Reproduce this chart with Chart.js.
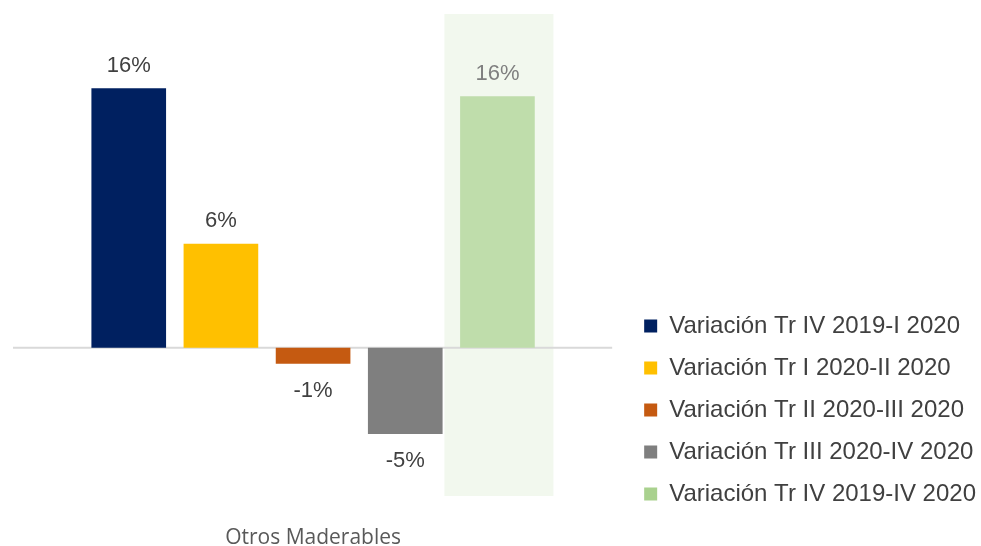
<!DOCTYPE html>
<html>
<head>
<meta charset="utf-8">
<script src="https://cdn.jsdelivr.net/npm/chart.js@4"></script>
<style>
  html, body { margin: 0; padding: 0; background: #fff; }
  #wrap { width: 981px; height: 546px; }
</style>
</head>
<body>
<div id="wrap"><canvas id="chart"></canvas></div>
<script>
// Chart data
const categories = ["Otros Maderables"];
const seriesNames = [
    "Variación Tr IV 2019-I 2020",
    "Variación Tr I 2020-II 2020",
    "Variación Tr II 2020-III 2020",
    "Variación Tr III 2020-IV 2020",
    "Variación Tr IV 2019-IV 2020"
];
const seriesValues = [16.1, 6.45, -1.0, -5.35, 15.6];
const seriesColors = ["#002060", "#ffc000", "#c55a11", "#7f7f7f", "#bfddab"];
const legendColors = ["#002060", "#ffc000", "#c55a11", "#7f7f7f", "#a9d18e"];
const highlightIndex = 4;

// light green band behind the last bar + the zero line
const backPlugin = {
    id: 'back',
    beforeDatasetsDraw(chart) {
        const bar = chart.getDatasetMeta(highlightIndex).data[0];
        const area = chart.chartArea;
        const ctx = chart.ctx;
        const y0 = chart.scales.y.getPixelForValue(0);
        ctx.save();
        ctx.fillStyle = '#f2f8ee';
        ctx.fillRect(bar.x - 53, area.top, 109, area.bottom - area.top);
        ctx.strokeStyle = '#d9d9d9';
        ctx.lineWidth = 2;
        ctx.beginPath();
        ctx.moveTo(area.left + 13, y0);
        ctx.lineTo(area.right - 14, y0);
        ctx.stroke();
        ctx.restore();
    }
};

// value labels above / below the bars
const labelPlugin = {
    id: 'valueLabels',
    afterDatasetsDraw(chart) {
        const ctx = chart.ctx;
        ctx.save();
        ctx.font = '22px "Liberation Sans", Arial, sans-serif';
        ctx.textAlign = 'center';
        ctx.textBaseline = 'middle';
        chart.data.datasets.forEach((ds, i) => {
            const bar = chart.getDatasetMeta(i).data[0];
            const v = ds.data[0];
            ctx.fillStyle = i === highlightIndex ? '#7f7f7f' : '#404040';
            const y = v >= 0 ? bar.y - 22.5 : bar.y + 27;
            ctx.fillText(Math.round(v) + '%', bar.x, y);
        });
        ctx.restore();
    }
};

new Chart(document.getElementById('chart').getContext('2d'), {
    type: 'bar',
    data: {
        labels: categories,
        datasets: seriesNames.map((name, i) => ({
            label: name,
            data: [seriesValues[i]],
            backgroundColor: seriesColors[i],
            barPercentage: 0.81,
            categoryPercentage: 0.736
        }))
    },
    options: {
        responsive: true,
        maintainAspectRatio: false,
        animation: false,
        // negative right/bottom: legend box and x axis may run past the canvas edge
        layout: { padding: { left: -1, top: 14, right: -5, bottom: -35 } },
        plugins: {
            legend: {
                position: 'right',
                align: 'start',
                // empty title only pushes the items down
                title: { display: true, text: '', font: { size: 10, lineHeight: 1.2 }, padding: { top: 0, bottom: 270 } },
                labels: {
                    font: { family: '"Liberation Sans", Arial, sans-serif', size: 24 },
                    color: '#404040',
                    boxWidth: 13,
                    boxHeight: 13,
                    padding: 18,
                    generateLabels(chart) {
                        return chart.data.datasets.map((ds, i) => ({
                            text: ds.label,
                            fillStyle: legendColors[i],
                            strokeStyle: legendColors[i],
                            lineWidth: 0,
                            fontColor: '#404040',
                            datasetIndex: i
                        }));
                    }
                }
            },
            tooltip: { enabled: false }
        },
        scales: {
            x: {
                grid: { display: false, drawTicks: false },
                border: { display: false },
                ticks: {
                    color: '#595959',
                    font: { family: '"Open Sans", sans-serif', size: 21, lineHeight: 1 },
                    padding: 32
                }
            },
            y: {
                display: false,
                min: -9.2,
                max: 20.7
            }
        }
    },
    plugins: [backPlugin, labelPlugin]
});
</script>
</body>
</html>
